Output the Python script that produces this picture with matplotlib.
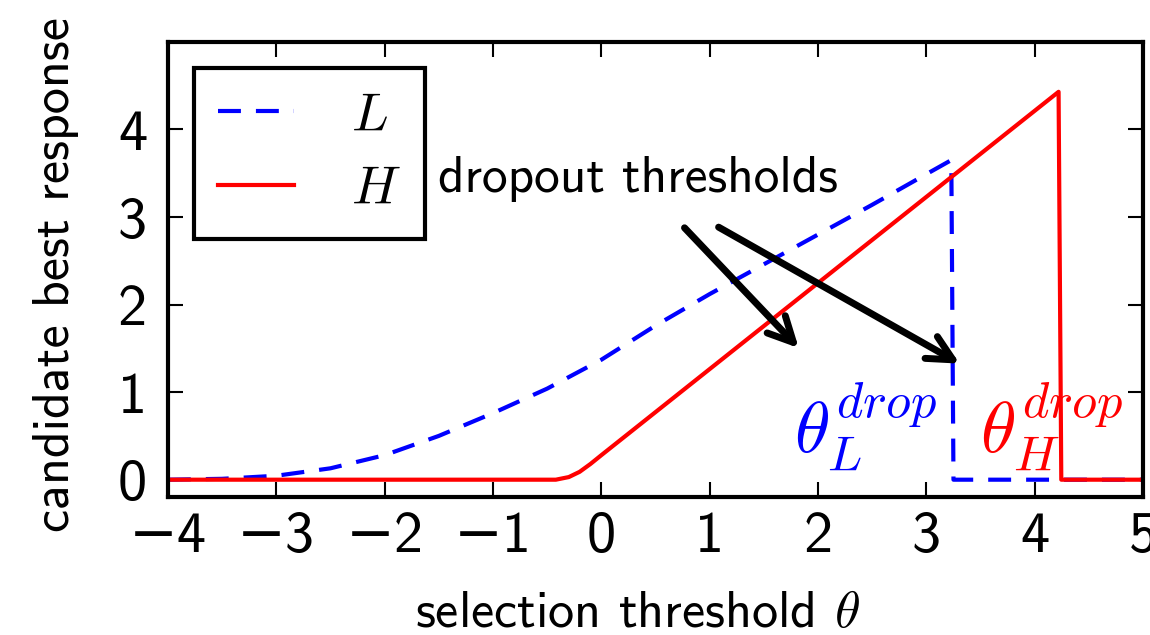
import numpy as np
import matplotlib
matplotlib.use('Agg')
import matplotlib.pyplot as plt
from matplotlib.ticker import FuncFormatter

plt.rcParams['font.family'] = ['cmss10', 'DejaVu Sans']
plt.rcParams['mathtext.fontset'] = 'cm'

# candidate best response of the low type (dashed blue)
theta_L = [-4.0, -3.5, -3.0, -2.5, -2.0, -1.5, -1.0, -0.5, 0.0, 0.5,
           1.0, 1.5, 2.0, 2.5, 3.0, 3.23, 3.25, 5.0]
resp_L = [0.0, 0.01, 0.045, 0.13, 0.28, 0.50, 0.76, 1.04, 1.37, 1.76,
          2.12, 2.46, 2.80, 3.14, 3.49, 3.65, 0.0, 0.0]

# candidate best response of the high type (solid red)
theta_H = [-4.0, -0.42, -0.3, -0.2, -0.1, 0.0, 4.22, 4.245, 5.0]
resp_H = [0.0, 0.0, 0.03, 0.09, 0.18, 0.28, 4.43, 0.0, 0.0]

xticks = [-4, -3, -2, -1, 0, 1, 2, 3, 4, 5]
yticks = [0, 1, 2, 3, 4]

fig = plt.figure(figsize=(11.5, 6.35), dpi=100)
ax = fig.add_axes([0.146, 0.217, 0.848, 0.717])

ax.plot(theta_L, resp_L, color='blue', lw=3, linestyle=(0, (5.5, 3.6)), label='$L$')
ax.plot(theta_H, resp_H, color='red', lw=3, label='$H$')

ax.set_xlim(-4, 5)
ax.set_ylim(-0.2, 5)
ax.set_xticks(xticks)
ax.set_yticks(yticks)
# cmss10 has no minus sign, so it falls back to DejaVu Sans
fmt = FuncFormatter(lambda v, p: ('%d' % v).replace('-', '\u2212'))
ax.xaxis.set_major_formatter(fmt)
ax.yaxis.set_major_formatter(fmt)
ax.tick_params(direction='in', top=True, right=True, length=11, width=1.5,
               labelsize=42)
ax.tick_params(axis='x', pad=10)
ax.tick_params(axis='y', pad=15)
for s in ax.spines.values():
    s.set_linewidth(3)

ax.set_xlabel(r'selection threshold $\theta$', fontsize=37.5, labelpad=20)
ax.set_ylabel('candidate best response', fontsize=37.5, labelpad=28)
ax.xaxis.label.set_x(0.4815)
ax.yaxis.label.set_y(0.489)

leg = ax.legend(loc='upper left', fontsize=39, handlelength=1.4, handletextpad=1.05,
                borderpad=0.45, labelspacing=0.45, borderaxespad=0.48, fancybox=False,
                framealpha=1)
leg.get_frame().set_edgecolor('black')
leg.get_frame().set_linewidth(3)

ax.text(0.34, 3.43, 'dropout thresholds', fontsize=37, ha='center', va='center')
for start, end in [((0.75, 2.9), (1.84, 1.48)), ((1.06, 2.9), (3.33, 1.31))]:
    ax.annotate('', xy=end, xytext=start,
                arrowprops=dict(arrowstyle='->', lw=5, color='black', mutation_scale=45))

ax.text(2.44, 0.6, r'$\theta_L^{drop}$', color='blue', fontsize=52, ha='center', va='center')
ax.text(4.15, 0.6, r'$\theta_H^{drop}$', color='red', fontsize=52, ha='center', va='center')

fig.savefig('out.png', dpi=100)
